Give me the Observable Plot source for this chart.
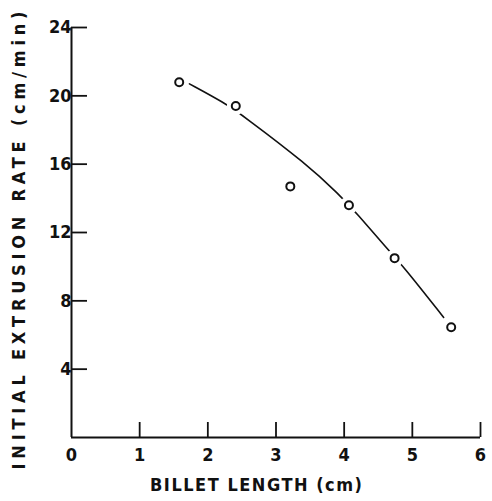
<!DOCTYPE html>
<html>
<head>
<meta charset="utf-8">
<script src="https://cdn.jsdelivr.net/npm/d3@7"></script>
<script src="https://cdn.jsdelivr.net/npm/@observablehq/plot@0.6"></script>
<style>
  html, body { margin: 0; padding: 0; background: #fff; }
  #chart svg { display: block; }
</style>
</head>
<body>
<div id="chart"></div>
<script>
// Measured points
const billetLength = [1.58, 2.41, 3.21, 4.07, 4.74, 5.57];
const extrusionRate = [20.8, 19.4, 14.7, 13.6, 10.5, 6.45];
// Fitted curve
const curveX = [1.73, 2.24, 2.53, 3.45, 3.92, 4.19, 4.63, 4.86, 5.46];
const curveY = [20.7, 19.6, 18.8, 16.0, 14.25, 13.1, 11.05, 10.06, 7.03];
// Ticks
const xTicks = [0, 1, 2, 3, 4, 5, 6];
const yTicks = [4, 8, 12, 16, 20, 24];
const xTitle = "BILLET LENGTH (cm)";
const yTitle = "INITIAL EXTRUSION RATE (cm/min)";

const points = billetLength.map((x, i) => ({x, y: extrusionRate[i]}));
const curve = curveX.map((x, i) => ({x, y: curveY[i]}));

const W = 492, H = 501, mL = 71, mR = 12, mT = 27, mB = 64;
const font = "'Liberation Sans Narrow', 'DejaVu Sans Condensed', sans-serif";

const chart = Plot.plot({
  width: W, height: H,
  marginLeft: mL, marginRight: mR, marginTop: mT, marginBottom: mB,
  style: {fontFamily: font, fontSize: "17px", fontWeight: "bold", color: "#111", background: "#fff"},
  x: {domain: [0, 6]},
  y: {domain: [0, 24]},
  marks: [
    Plot.axisX({ticks: xTicks, tickFormat: "d", tickSize: 0, tickPadding: 11, label: null, fontSize: 18, fontWeight: "bold"}),
    Plot.axisY({ticks: yTicks, tickFormat: "d", tickSize: 0, tickPadding: 0, label: null, fontSize: 18, fontWeight: "bold"}),
    Plot.tickX(xTicks.filter(d => d > 0), {x: d => d, insetTop: (H - mT - mB) - 15, stroke: "#111", strokeWidth: 1.8}),
    Plot.tickY(yTicks, {y: d => d, insetRight: (W - mL - mR) - 16, stroke: "#111", strokeWidth: 1.8}),
    Plot.ruleX([0], {stroke: "#111", strokeWidth: 2}),
    Plot.ruleY([0], {stroke: "#111", strokeWidth: 2}),
    Plot.line(curve, {x: "x", y: "y", curve: "basis", stroke: "#111", strokeWidth: 1.6}),
    Plot.dot(points, {x: "x", y: "y", r: 9, fill: "#fff", stroke: "none"}),
    Plot.dot(points, {x: "x", y: "y", r: 4, fill: "#fff", stroke: "#111", strokeWidth: 2}),
    Plot.text([xTitle], {text: d => d, frameAnchor: "bottom", textAnchor: "middle", lineAnchor: "middle", dy: 48, dx: -20, fontSize: 18, fontWeight: "bold", fill: "#111", className: "xtitle"}),
    Plot.text([yTitle], {text: d => d, frameAnchor: "left", textAnchor: "middle", lineAnchor: "middle", dx: -52, dy: 8, rotate: -90, fontSize: 18, fontWeight: "bold", fill: "#111", className: "ytitle"})
  ]
});
document.getElementById("chart").appendChild(chart);
document.querySelectorAll(".xtitle text").forEach(t => { t.setAttribute("textLength", "212"); t.setAttribute("lengthAdjust", "spacing"); });
document.querySelectorAll(".ytitle text").forEach(t => { t.setAttribute("textLength", "458"); t.setAttribute("lengthAdjust", "spacing"); });
</script>
</body>
</html>
